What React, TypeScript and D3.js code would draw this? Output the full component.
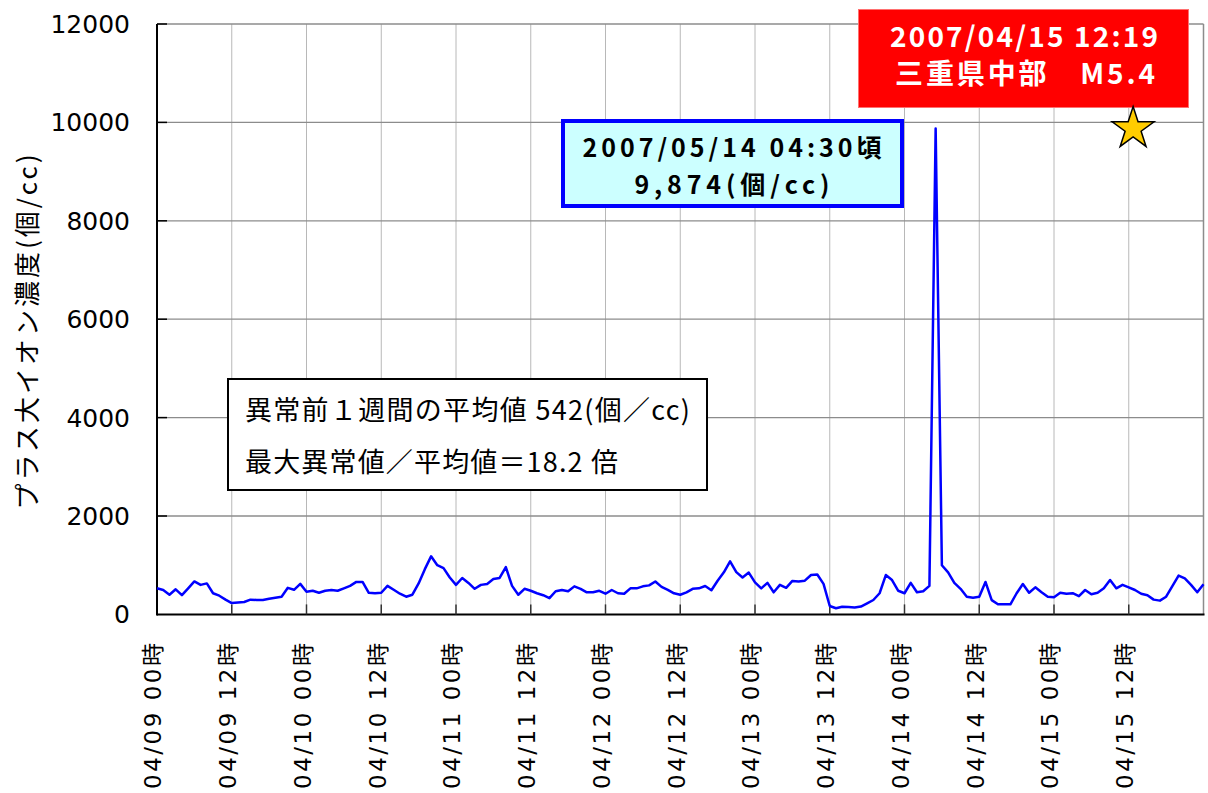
import React, { useEffect, useRef } from 'react';
import * as d3 from 'd3';

// hourly values (個/cc), one array per day
const day0409 = [530, 495, 400, 510, 390, 530, 670, 600, 630, 430, 380, 300, 230, 240, 252, 300, 293, 293, 320, 340, 360, 540, 500, 620];
const day0410 = [461, 480, 440, 480, 496, 480, 530, 580, 660, 660, 440, 428, 440, 580, 500, 420, 360, 400, 630, 920, 1180, 1000, 940, 750];
const day0411 = [600, 740, 640, 520, 600, 620, 720, 740, 960, 580, 400, 520, 480, 430, 390, 330, 470, 496, 470, 570, 520, 449, 449, 480];
const day0412 = [420, 496, 430, 420, 530, 530, 570, 590, 670, 560, 500, 428, 400, 449, 520, 530, 577, 490, 685, 855, 1080, 860, 750, 850];
const day0413 = [650, 530, 640, 449, 600, 540, 680, 670, 685, 800, 810, 620, 170, 124, 156, 150, 140, 160, 225, 293, 430, 800, 699, 480];
const day0414 = [430, 640, 449, 470, 580, 9874, 1000, 855, 640, 520, 360, 340, 360, 660, 290, 205, 205, 205, 430, 618, 440, 550, 450, 360];
const day0415 = [350, 440, 420, 430, 370, 496, 410, 440, 530, 700, 530, 600, 550, 496, 420, 390, 300, 280, 360, 577, 790, 733, 600, 450];
const day0416 = [611];

const yTicks = [0, 2000, 4000, 6000, 8000, 10000, 12000];
const xTickLabels = [
  '04/09 00時', '04/09 12時', '04/10 00時', '04/10 12時', '04/11 00時', '04/11 12時', '04/12 00時',
  '04/12 12時', '04/13 00時', '04/13 12時', '04/14 00時', '04/14 12時', '04/15 00時', '04/15 12時',
];
const yTitle = 'プラス大イオン濃度(個/cc)';
const peakLines = ['2007/05/14 04:30頃', '9,874(個/cc)'];
const quakeLines = ['2007/04/15 12:19', '三重県中部　M5.4'];
const noteLines = ['異常前１週間の平均値 542(個／cc)', '最大異常値／平均値＝18.2 倍'];
const quakeHour = 156.7;
const quakeValue = 9874;

const cjk = '"Noto Sans CJK JP", sans-serif';
const num = '"DejaVu Sans", "Noto Sans CJK JP", sans-serif';

export default function App() {
  const svgRef = useRef<SVGSVGElement>(null);

  useEffect(() => {
    const series = [...day0409, ...day0410, ...day0411, ...day0412, ...day0413, ...day0414, ...day0415, ...day0416];
    const left = 157, right = 1203.5, top = 24, bottom = 614.4;

    const svg = d3.select(svgRef.current).html('');
    const x = d3.scaleLinear().domain([0, 168]).range([left, right]);
    const y = d3.scaleLinear().domain([0, 12000]).range([bottom, top]);
    const tickHours = xTickLabels.map((_, i) => i * 12);

    // grid
    svg.append('g').selectAll('line').data(tickHours.slice(1)).enter().append('line')
      .attr('x1', d => x(d)).attr('x2', d => x(d)).attr('y1', top).attr('y2', bottom)
      .attr('stroke', '#b8b8b8').attr('stroke-width', 1);
    svg.append('g').selectAll('line').data(yTicks.slice(1)).enter().append('line')
      .attr('x1', left).attr('x2', right).attr('y1', d => y(d)).attr('y2', d => y(d))
      .attr('stroke', '#8c8c8c').attr('stroke-width', 1.3);
    svg.append('line').attr('x1', right).attr('x2', right).attr('y1', top).attr('y2', bottom)
      .attr('stroke', '#8c8c8c').attr('stroke-width', 1.5);

    // axes
    svg.append('line').attr('x1', left).attr('x2', left).attr('y1', top).attr('y2', bottom + 1)
      .attr('stroke', '#000').attr('stroke-width', 2);
    svg.append('line').attr('x1', left).attr('x2', right + 1).attr('y1', bottom).attr('y2', bottom)
      .attr('stroke', '#000').attr('stroke-width', 2);
    svg.append('g').selectAll('line').data(yTicks.slice(1)).enter().append('line')
      .attr('x1', left).attr('x2', left + 10).attr('y1', d => y(d)).attr('y2', d => y(d))
      .attr('stroke', '#000').attr('stroke-width', 1.5);
    svg.append('g').selectAll('line').data(tickHours.slice(1)).enter().append('line')
      .attr('x1', d => x(d)).attr('x2', d => x(d)).attr('y1', bottom).attr('y2', bottom - 10)
      .attr('stroke', '#333').attr('stroke-width', 1.5);

    svg.append('g').selectAll('text').data(yTicks).enter().append('text')
      .attr('x', 130).attr('y', d => y(d)).attr('dy', '0.36em')
      .attr('text-anchor', 'end').style('font-family', num).style('font-size', '25px')
      .attr('fill', '#000').text(d => d);

    svg.append('g').selectAll('text').data(xTickLabels).enter().append('text')
      .attr('transform', (d, i) => `translate(${x(tickHours[i]) - 4},643) rotate(-90)`)
      .attr('dy', '0.36em').attr('text-anchor', 'end')
      .attr('textLength', 146).attr('lengthAdjust', 'spacing')
      .style('font-family', num).style('font-size', '23px').attr('fill', '#000')
      .text(d => d);

    svg.append('text')
      .attr('transform', 'translate(28,332) rotate(-90)')
      .attr('dy', '0.36em').attr('text-anchor', 'middle')
      .attr('textLength', 355).attr('lengthAdjust', 'spacing')
      .style('font-family', cjk).style('font-size', '26px').attr('fill', '#000')
      .text(yTitle);

    // line
    const line = d3.line<number>().x((d, i) => x(i)).y(d => y(d));
    svg.append('path').datum(series).attr('d', line)
      .attr('fill', 'none').attr('stroke', '#0000ff').attr('stroke-width', 2.5)
      .attr('stroke-linejoin', 'round');

    // note box
    svg.append('rect').attr('x', 228).attr('y', 379).attr('width', 479).attr('height', 111)
      .attr('fill', '#fff').attr('stroke', '#000').attr('stroke-width', 2);
    svg.append('text').attr('x', 245).attr('y', 420).attr('textLength', 445).attr('lengthAdjust', 'spacing')
      .style('font-family', cjk).style('font-size', '27px').attr('fill', '#000').text(noteLines[0]);
    svg.append('text').attr('x', 245).attr('y', 472).attr('textLength', 373).attr('lengthAdjust', 'spacing')
      .style('font-family', cjk).style('font-size', '27px').attr('fill', '#000').text(noteLines[1]);

    // peak callout
    svg.append('rect').attr('x', 563).attr('y', 121).attr('width', 339).attr('height', 85)
      .attr('fill', '#ccffff').attr('stroke', '#0000ff').attr('stroke-width', 4);
    svg.append('text').attr('x', 732).attr('y', 157).attr('text-anchor', 'middle')
      .attr('textLength', 299).attr('lengthAdjust', 'spacing')
      .style('font-family', cjk).style('font-size', '25px').style('font-weight', 'bold')
      .attr('fill', '#000').text(peakLines[0]);
    svg.append('text').attr('x', 732).attr('y', 194).attr('text-anchor', 'middle')
      .attr('textLength', 195).attr('lengthAdjust', 'spacing')
      .style('font-family', cjk).style('font-size', '25px').style('font-weight', 'bold')
      .attr('fill', '#000').text(peakLines[1]);

    // quake box
    svg.append('rect').attr('x', 858.5).attr('y', 9.5).attr('width', 330).attr('height', 98)
      .attr('fill', '#ff0000').attr('stroke', '#ff7070').attr('stroke-width', 1);
    svg.append('text').attr('x', 1024).attr('y', 47).attr('text-anchor', 'middle')
      .attr('textLength', 268).attr('lengthAdjust', 'spacing')
      .style('font-family', cjk).style('font-size', '28px').style('font-weight', 'bold')
      .attr('fill', '#fff').text(quakeLines[0]);
    svg.append('text').attr('x', 1025).attr('y', 84).attr('text-anchor', 'middle')
      .attr('textLength', 260).attr('lengthAdjust', 'spacing')
      .style('font-family', cjk).style('font-size', '28px').style('font-weight', 'bold')
      .attr('fill', '#fff').text(quakeLines[1]);

    // star
    svg.append('path')
      .attr('d', d3.symbol().type(d3.symbolStar).size(545)())
      .attr('transform', `translate(${x(quakeHour)},${y(quakeValue)})`)
      .attr('fill', '#ffcc00').attr('stroke', '#000').attr('stroke-width', 1.5)
      .attr('stroke-linejoin', 'miter');
  }, []);

  return (
    <svg ref={svgRef} width={1208} height={793}
      style={{ position: 'absolute', left: 0, top: 0, display: 'block', background: '#fff' }} />
  );
}
